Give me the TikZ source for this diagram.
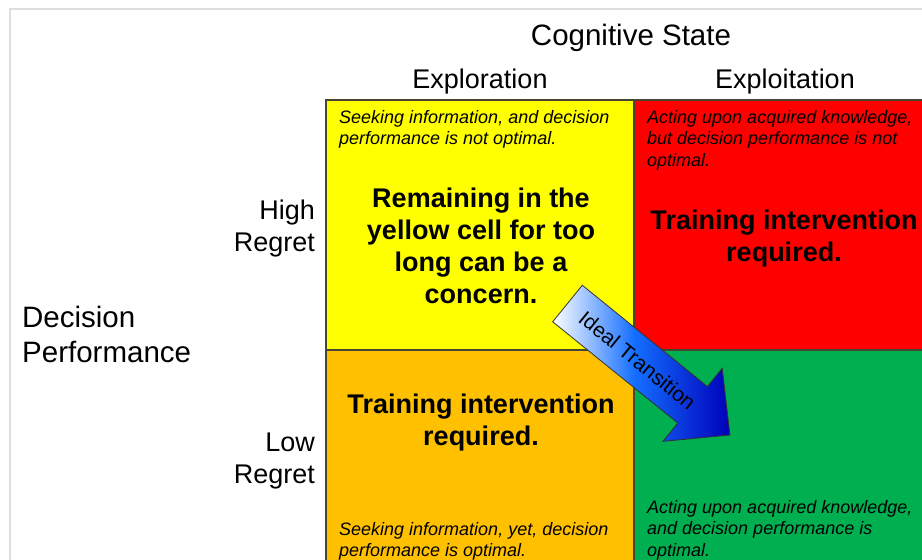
\documentclass[tikz,border=0pt]{standalone}
\usepackage{fontspec}
\setmainfont{Liberation Sans}
\definecolor{cellyellow}{RGB}{255,255,0}
\definecolor{cellred}{RGB}{255,0,0}
\definecolor{cellorange}{RGB}{255,192,0}
\definecolor{cellgreen}{RGB}{0,176,80}
\definecolor{cellline}{RGB}{70,70,50}
\definecolor{framegray}{RGB}{222,222,222}
\definecolor{arrowmid}{RGB}{20,110,255}
\definecolor{arrowend}{RGB}{0,0,185}
\pgfdeclarehorizontalshading{arrowshade}{100bp}{color(0bp)=(white); color(25bp)=(white); color(48bp)=(arrowmid); color(75bp)=(arrowend); color(100bp)=(arrowend)}
\tikzset{
  note/.style={anchor=north west,inner sep=0pt,align=left,font=\fontsize{18}{21.5}\selectfont\itshape},
  bigtext/.style={anchor=north,inner sep=0pt,align=center,font=\fontsize{27}{31.5}\selectfont\bfseries},
  label/.style={inner sep=0pt,font=\fontsize{27}{32}\selectfont},
  cellbox/.style={draw=cellline,line width=1.5pt}
}
\begin{document}
\begin{tikzpicture}[x=1pt,y=-1pt]
\useasboundingbox (0,0) rectangle (922,560);
\clip (0,0) rectangle (922,560);
\fill[white] (0,0) rectangle (922,560);
% outer frame
\draw[framegray,line width=1.5pt] (10,9) rectangle (1000,700);
% cells
\fill[cellyellow] (326,100) rectangle (634,350);
\fill[cellred] (634,100) rectangle (960,350);
\fill[cellorange] (326,350) rectangle (634,620);
\fill[cellgreen] (634,350) rectangle (960,620);
\draw[cellbox] (326,620) -- (326,100) -- (960,100);
\draw[cellbox] (634,100) -- (634,620);
\draw[cellbox] (326,350) -- (960,350);
% headings
\node[label,anchor=base,font=\fontsize{29.5}{34}\selectfont] (cog) at (631,45) {Cognitive State};
\node[label,anchor=base] (explor) at (480,88) {Exploration};
\node[label,anchor=base] (exploit) at (785,88) {Exploitation};
\node[label,anchor=north east,align=right] (high) at (315,199.5) {High\\Regret};
\node[label,anchor=north east,align=right] (low) at (315,432.5) {Low\\Regret};
\node[label,anchor=north west,align=left,font=\fontsize{29.5}{35}\selectfont] (dp) at (22,306) {Decision\\Performance};
% cell texts
\node[note] (ynote) at (339,110) {Seeking information, and decision\\performance is not optimal.};
\node[note] (rnote) at (647,110) {Acting upon acquired knowledge,\\but decision performance is not\\optimal.};
\node[note] (onote) at (339,522) {Seeking information, yet, decision\\performance is optimal.};
\node[note] (gnote) at (647,500) {Acting upon acquired knowledge,\\and decision performance is\\optimal.};
\node[bigtext,font=\fontsize{27}{32}\selectfont\bfseries] (ybig) at (481,187.5) {Remaining in the\\yellow cell for too\\long can be a\\concern.};
\node[bigtext] (rbig) at (784,210) {Training intervention\\required.};
\node[bigtext] (obig) at (481,394) {Training intervention\\required.};
% arrow
\begin{scope}[shift={(567.5,303.5)},rotate=-39]
\path[draw=black!80,line width=0.8pt,shade,shading=arrowshade,shading angle=0]
  (0,-23.5) -- (161,-23.5) -- (161,-47) -- (209,0) -- (161,47) -- (161,23.5) -- (0,23.5) -- cycle;
\node[inner sep=0pt,rotate=-39,font=\fontsize{21}{24}\selectfont] (ideal) at (90,0) {Ideal Transition};
\end{scope}
\end{tikzpicture}
\end{document}
